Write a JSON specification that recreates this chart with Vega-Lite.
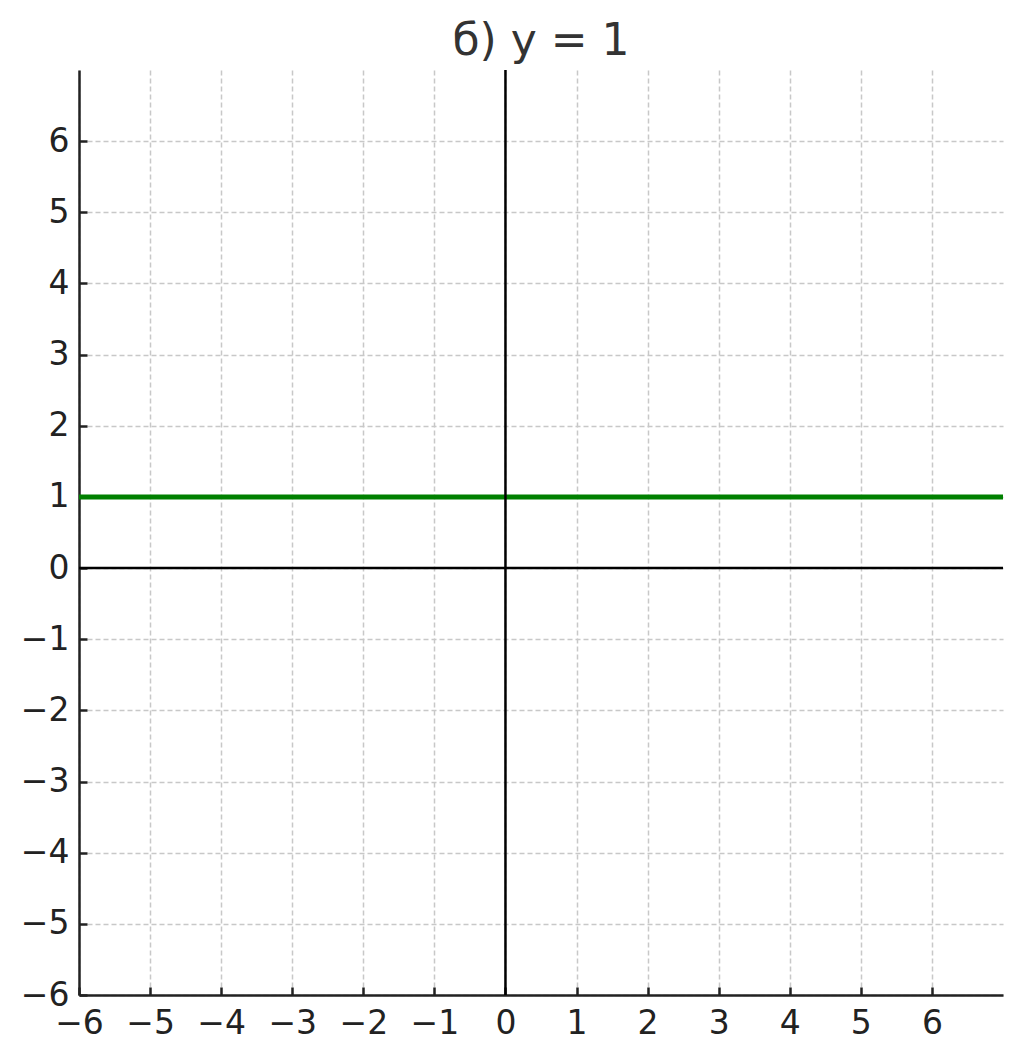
{
  "$schema": "https://vega.github.io/schema/vega-lite/v6.json",
  "width": 924,
  "height": 925,
  "autosize": "none",
  "padding": {"left": 79, "top": 70, "right": 20, "bottom": 63},
  "background": "white",
  "title": {"text": "б) y = 1", "font": "DejaVu Sans", "fontSize": 44, "fontWeight": "normal", "color": "#333333", "offset": 5, "anchor": "middle"},
  "config": {"view": {"stroke": null}},
  "datasets": {
    "line": [{"x": -6, "y": 1}, {"x": 7, "y": 1}],
    "zeros": [{"v": 0}]
  },
  "layer": [
    {
      "data": {"name": "line"},
      "mark": {"type": "line", "color": "#008000", "strokeWidth": 5, "clip": true},
      "encoding": {
        "x": {"field": "x", "type": "quantitative", "scale": {"domain": [-6, 7], "nice": false, "zero": false},
          "axis": {"values": [-6,-5,-4,-3,-2,-1,0,1,2,3,4,5,6], "title": null, "format": "d", "labelFont": "DejaVu Sans", "labelFontSize": 33, "labelColor": "#222222", "domainColor": "#222222", "domainWidth": 2.5, "tickColor": "#222222", "tickWidth": 2.5, "tickSize": -8, "labelPadding": 20, "grid": true, "gridColor": "#c8c8c8", "gridDash": [5, 3], "gridWidth": 1.5, "labelFlush": false}},
        "y": {"field": "y", "type": "quantitative", "scale": {"domain": [-6, 7], "nice": false, "zero": false},
          "axis": {"values": [-6,-5,-4,-3,-2,-1,0,1,2,3,4,5,6], "title": null, "format": "d", "labelFont": "DejaVu Sans", "labelFontSize": 33, "labelColor": "#222222", "domainColor": "#222222", "domainWidth": 2.5, "tickColor": "#222222", "tickWidth": 2.5, "tickSize": -8, "labelPadding": 18, "grid": true, "gridColor": "#c8c8c8", "gridDash": [5, 3], "gridWidth": 1.5, "labelFlush": false}}
      }
    },
    {
      "data": {"name": "zeros"},
      "mark": {"type": "rule", "color": "black", "strokeWidth": 2.5},
      "encoding": {"x": {"field": "v", "type": "quantitative"}}
    },
    {
      "data": {"name": "zeros"},
      "mark": {"type": "rule", "color": "black", "strokeWidth": 2.5},
      "encoding": {"y": {"field": "v", "type": "quantitative"}}
    }
  ]
}
